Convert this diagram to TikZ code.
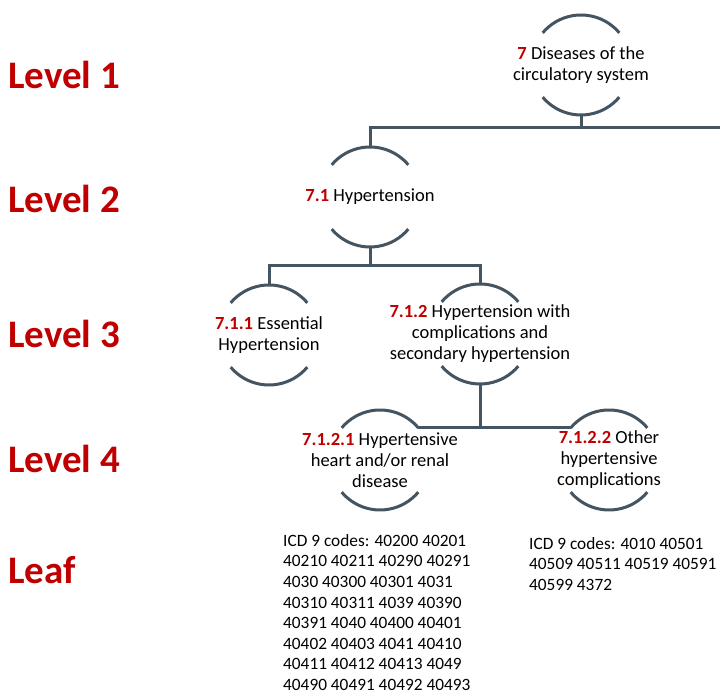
\documentclass[tikz,border=0pt]{standalone}
\usepackage{fontspec}
\setmainfont{Carlito}
\definecolor{codered}{RGB}{192,0,0}
\definecolor{linkgray}{RGB}{68,84,96}
\newcommand{\icd}[1]{\textcolor{codered}{\textbf{#1}}}

\begin{document}
\begin{tikzpicture}[x=1pt, y=1pt,
  ring/.style={circle, minimum size=100, inner sep=0pt, outer sep=0pt},
  txt/.style={align=center, inner sep=0pt, font=\fontsize{18.5}{21}\selectfont},
  link/.style={line width=3pt, linkgray},
  lvl/.style={anchor=west, inner sep=0pt, text=codered, font=\fontsize{39}{44}\selectfont\bfseries},
  leaf/.style={anchor=north west, align=left, inner sep=0pt, font=\fontsize{17.3}{20.6}\selectfont}]
\useasboundingbox (0,0) rectangle (720,692);
% level names
\foreach \y/\t [count=\i] in {617/Level 1, 493/Level 2, 358/Level 3, 233/Level 4, 122/Leaf} {
    \node[lvl] (lvl\i) at (8,\y) {\t};
}
% categories
\node[ring, label={[txt]center:{\icd{7} Diseases of the\\circulatory system}}] (n7) at (581,627) {};
\node[ring, label={[txt]center:{\icd{7.1} Hypertension}}] (n71) at (370,495) {};
\node[ring, label={[txt]center:{\icd{7.1.1} Essential\\Hypertension}}] (n711) at (269,357) {};
\node[ring, label={[txt]center:{\icd{7.1.2} Hypertension with\\complications and\\secondary hypertension}}] (n712) at (480,358) {};
\node[ring, label={[txt]center:{\icd{7.1.2.1} Hypertensive\\heart and/or renal\\disease}}] (n7121) at (380,232) {};
\node[ring, label={[txt]center:{\icd{7.1.2.2} Other\\hypertensive\\complications}}] (n7122) at (609,232) {};
\foreach \n in {n7,n71,n711,n712,n7121,n7122} {
    \draw[link] (\n.40) arc[start angle=40, end angle=140, radius=50];
    \draw[link] (\n.220) arc[start angle=220, end angle=320, radius=50];
}
% tree links
\coordinate (bus) at (720,564);
\draw[link] (n7.south) -- (n7.south |- bus);
\draw[link] (n71.north) |- (bus);
\draw[link] (n71.south) -- ++(0,-19) -| (n711.north);
\draw[link] (n71.south) -- ++(0,-19) -| (n712.north);
\draw[link] (n712.south) |- (n7121.40);
\draw[link] (n712.south) |- (n7122.140);
% leaf codes
\node[leaf] (codes1) at (283,158) {ICD 9 codes: 40200 40201\\40210 40211 40290 40291\\4030 40300 40301 4031\\40310 40311 4039 40390\\40391 4040 40400 40401\\40402 40403 4041 40410\\40411 40412 40413 4049\\40490 40491 40492 40493};
\node[leaf] (codes2) at (529,155) {ICD 9 codes: 4010 40501\\40509 40511 40519 40591\\40599 4372};
\end{tikzpicture}
\end{document}
